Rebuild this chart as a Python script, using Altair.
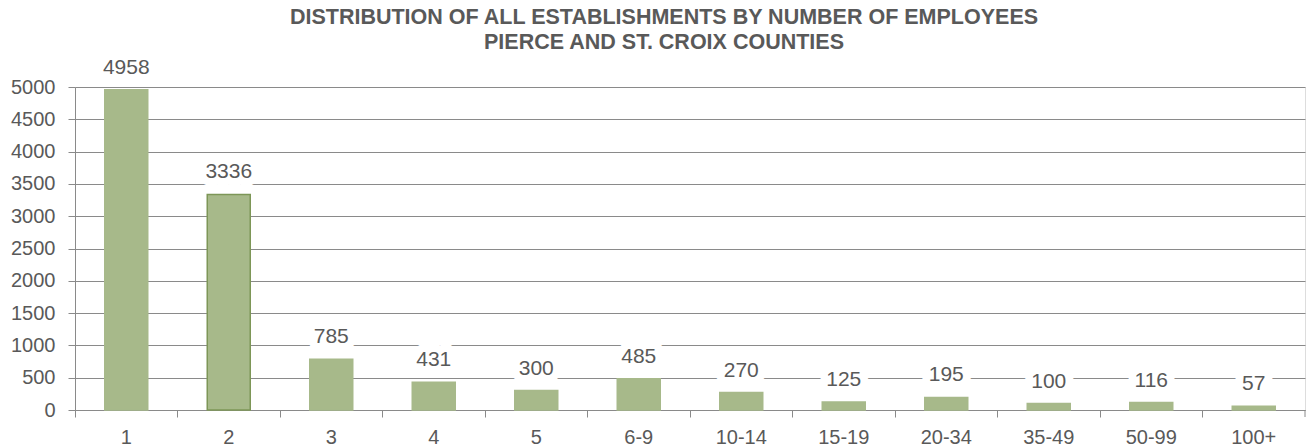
import altair as alt
import pandas as pd

categories = ["1", "2", "3", "4", "5", "6-9", "10-14", "15-19", "20-34", "35-49", "50-99", "100+"]
values = [4958, 3336, 785, 431, 300, 485, 270, 125, 195, 100, 116, 57]
y_ticks = [0, 500, 1000, 1500, 2000, 2500, 3000, 3500, 4000, 4500, 5000]
title_lines = ["DISTRIBUTION OF ALL ESTABLISHMENTS BY NUMBER OF EMPLOYEES",
               "PIERCE AND ST. CROIX COUNTIES"]

df = pd.DataFrame({"cat": categories, "val": values})

W, H = 1230, 323
FONT = "Liberation Sans"
TXT = "#595959"
GRID = "#8a8a8a"

x = alt.X("cat:N", sort=categories, title=None,
          scale=alt.Scale(paddingInner=0, paddingOuter=0),
          axis=alt.Axis(labelAngle=0, bandPosition=0,
                        labelFontSize=20, labelColor=TXT, labelFont=FONT,
                        labelPadding=10, tickSize=7, tickColor=GRID,
                        domainColor=GRID, grid=False, labelOverlap=False))
y = alt.Y("val:Q", title=None,
          scale=alt.Scale(domain=[0, 5000], nice=False),
          axis=alt.Axis(values=y_ticks, format="d", labelOverlap=False,
                        labelFontSize=20, labelColor=TXT,
                        labelFont=FONT, labelPadding=13, tickSize=7,
                        tickColor=GRID, domainColor=GRID, gridColor=GRID,
                        gridWidth=1))

base = alt.Chart(df)

bars = base.mark_bar(size=43, color="#A7B98A").encode(
    x=x, y=y,
    stroke=alt.condition(alt.datum.cat == "2", alt.value("#7D9657"), alt.value("#A7B98A")),
    strokeWidth=alt.value(1.5),
)

halo = base.mark_text(dy=-22, baseline="middle", fontSize=21, font=FONT,
                      fill="white", stroke="white", strokeWidth=16,
                      strokeJoin="round").encode(x=x, y=y, text="val:Q")

labels = base.mark_text(dy=-22, baseline="middle", fontSize=21, font=FONT,
                        color=TXT).encode(x=x, y=y, text="val:Q")

end_tick = alt.Chart(pd.DataFrame({"a": [0]})).mark_rule(color=GRID).encode(
    x=alt.value(W), y=alt.value(H), y2=alt.value(H + 7))

chart = alt.layer(bars, halo, labels, end_tick).properties(
    width=W, height=H,
    title=alt.TitleParams(text=title_lines, fontSize=21.5, fontWeight="bold",
                          font=FONT, dx=-26,
                          color=TXT, anchor="middle", offset=3, lineHeight=25),
    autosize=alt.AutoSizeParams(type="none"),
    padding={"left": 75, "top": 87, "right": 4, "bottom": 38},
).configure_view(stroke=None).configure(background="white")

chart.save("out.html", embed_options={"renderer": "svg", "actions": False})
